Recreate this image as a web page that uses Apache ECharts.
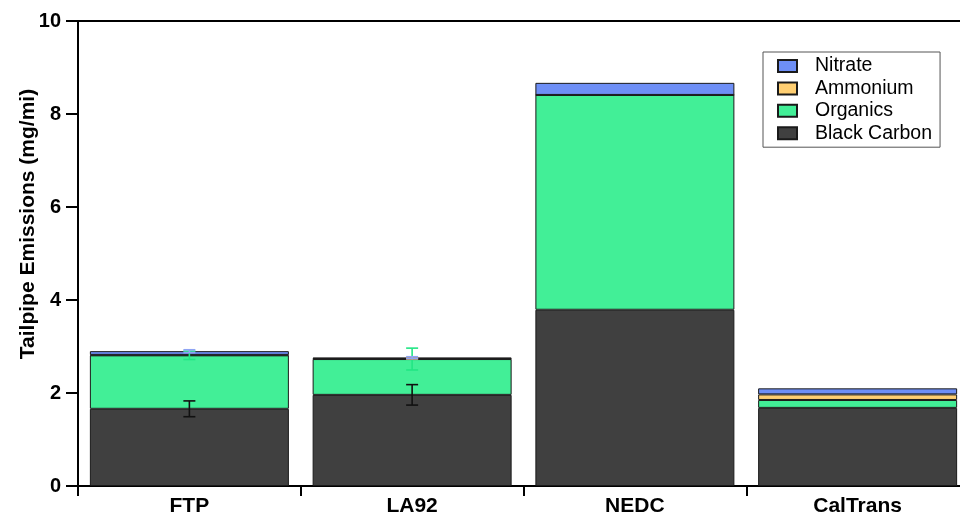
<!DOCTYPE html>
<html>
<head>
<meta charset="utf-8">
<script src="https://cdn.jsdelivr.net/npm/echarts@6/dist/echarts.min.js"></script>
<style>
  html, body { margin: 0; padding: 0; background: #fff; }
  #chart { width: 960px; height: 517px; }
</style>
</head>
<body>
<div id="chart"></div>
<script>
// Drive cycles and PM component emissions (mg/mi)
const cycles = ['FTP', 'LA92', 'NEDC', 'CalTrans'];
const blackCarbon = [1.66, 1.96, 3.79, 1.68];
const organics = [1.15, 0.77, 4.62, 0.17];
const ammonium = [0.01, 0.01, 0.0, 0.12];
const nitrate = [0.08, 0.02, 0.26, 0.13];

// Error bar half-widths (null = not shown)
const blackCarbonErr = [0.17, 0.22, null, null];
const organicsErr = [0.09, 0.235, null, null];
const ammoniumErr = [null, 0.01, null, null];
const nitrateErr = [0.03, 0.02, null, null];

const yTicks = { min: 0, max: 10, interval: 2 };

const FONT = '"Liberation Sans", Arial, Helvetica, sans-serif';
const colors = {
  nitrate: '#6e8ff6',
  ammonium: '#ffcf72',
  organics: '#42ef97',
  blackCarbon: '#404040'
};

// Stacked tops for placing the error bars
function cumulative(...layers) {
  return cycles.map((_, i) => layers.reduce((s, l) => s + l[i], 0));
}
const topBC = cumulative(blackCarbon);
const topOrg = cumulative(blackCarbon, organics);
const topAmm = cumulative(blackCarbon, organics, ammonium);
const topNit = cumulative(blackCarbon, organics, ammonium, nitrate);

function errData(centers, errs) {
  const out = [];
  errs.forEach((e, i) => {
    if (e != null) out.push([i, centers[i] - e, centers[i] + e]);
  });
  return out;
}

function renderErr(params, api) {
  const x = api.value(0);
  const p1 = api.coord([x, api.value(1)]);
  const p2 = api.coord([x, api.value(2)]);
  const half = 6;
  const style = { stroke: api.visual('color'), lineWidth: 1.6 };
  return {
    type: 'group',
    children: [
      { type: 'line', shape: { x1: p1[0], y1: p1[1], x2: p2[0], y2: p2[1] }, style },
      { type: 'line', shape: { x1: p1[0] - half, y1: p1[1], x2: p1[0] + half, y2: p1[1] }, style },
      { type: 'line', shape: { x1: p2[0] - half, y1: p2[1], x2: p2[0] + half, y2: p2[1] }, style }
    ]
  };
}

function barSeries(name, data, color) {
  return {
    name, type: 'bar', stack: 'total', data,
    barWidth: 199,
    itemStyle: { color, borderColor: '#1a1a1a', borderWidth: 1 },
    emphasis: { disabled: true }
  };
}

function errSeries(name, data, color) {
  return {
    name, type: 'custom', renderItem: renderErr, data,
    itemStyle: { color }, z: 5, silent: true,
    encode: { x: 0, y: [1, 2] }
  };
}

const chart = echarts.init(document.getElementById('chart'), null, { renderer: 'canvas' });
chart.setOption({
  animation: false,
  backgroundColor: '#fff',
  textStyle: { fontFamily: FONT },
  // the last category runs past the right edge of the canvas
  grid: { left: 78, width: 891, top: 21, bottom: 31, containLabel: false, outerBoundsMode: 'none' },
  legend: {
    data: ['Nitrate', 'Ammonium', 'Organics', 'Black Carbon'],
    orient: 'vertical',
    left: 763, top: 52,
    padding: [4, 8, 4, 14],
    itemWidth: 19, itemHeight: 12, itemGap: 2.4,
    icon: 'rect',
    backgroundColor: '#fff',
    borderColor: '#555', borderWidth: 1,
    selectedMode: false,
    textStyle: { fontFamily: FONT, fontSize: 19.5, color: '#000', lineHeight: 18, padding: [0, 0, 0, 13] }
  },
  xAxis: [
    {
      type: 'category', data: cycles, position: 'bottom', offset: 3,
      boundaryGap: true,
      axisLine: { lineStyle: { color: '#000', width: 2 } },
      axisTick: { show: true, length: 10, lineStyle: { color: '#000', width: 2 } },
      axisLabel: { color: '#000', fontWeight: 'bold', fontSize: 21, margin: 7, fontFamily: FONT },
      splitLine: { show: false }
    },
    {
      type: 'category', data: cycles, position: 'top',
      axisLine: { lineStyle: { color: '#000', width: 2 } },
      axisTick: { show: false }, axisLabel: { show: false }, splitLine: { show: false }
    }
  ],
  yAxis: {
    type: 'value', min: yTicks.min, max: yTicks.max, interval: yTicks.interval,
    axisLine: { show: true, lineStyle: { color: '#000', width: 2 } },
    axisTick: { show: true, length: 12, lineStyle: { color: '#000', width: 2 } },
    axisLabel: { color: '#000', fontWeight: 'bold', fontSize: 20, margin: 17, fontFamily: FONT },
    splitLine: { show: false }
  },
  graphic: [
    {
      type: 'text', x: 28, y: 224, rotation: Math.PI / 2,
      style: {
        text: 'Tailpipe Emissions (mg/mi)', fill: '#000',
        font: 'bold 21px ' + FONT, align: 'center', verticalAlign: 'middle'
      }
    }
  ],
  series: [
    barSeries('Black Carbon', blackCarbon, colors.blackCarbon),
    barSeries('Organics', organics, colors.organics),
    barSeries('Ammonium', ammonium, colors.ammonium),
    barSeries('Nitrate', nitrate, colors.nitrate),
    errSeries('Black Carbon err', errData(topBC, blackCarbonErr), '#111'),
    errSeries('Organics err', errData(topOrg, organicsErr), '#22e684'),
    errSeries('Ammonium err', errData(topAmm, ammoniumErr), '#d9a040'),
    errSeries('Nitrate err', errData(topNit, nitrateErr), '#8fa4f4')
  ]
});
</script>
</body>
</html>
